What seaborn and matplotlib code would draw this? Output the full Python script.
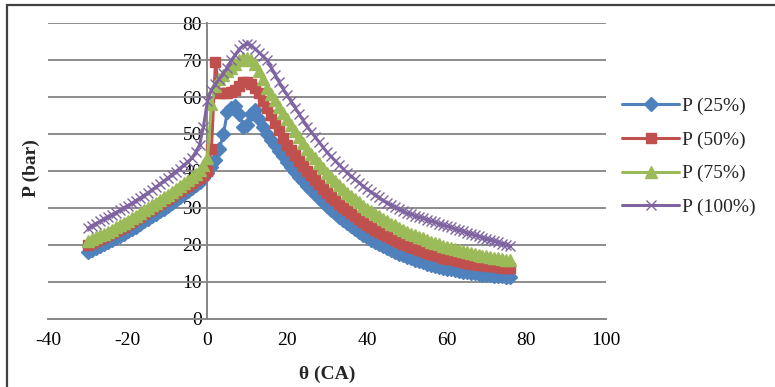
import numpy as np
import matplotlib
matplotlib.use("Agg")
import matplotlib.pyplot as plt
from matplotlib.patches import Rectangle
import seaborn as sns

# crank angle, 1 degree steps
theta = np.arange(-30, 77)

p25 = [18.0, 18.5, 19.0, 19.6, 20.1, 20.6, 21.2, 21.8, 22.4, 23.0,
       23.6, 24.2, 24.9, 25.6, 26.3, 27.0, 27.7, 28.4, 29.1, 29.8,
       30.5, 31.3, 32.1, 32.9, 33.7, 34.5, 35.3, 36.1, 37.0, 38.0,
       39.5, 41.0, 43.0, 46.0, 50.0, 56.0, 57.0, 57.5, 55.5, 52.0,
       52.5, 55.5, 56.5, 54.0, 52.0, 50.0, 48.3, 46.9, 45.3, 43.9,
       42.5, 41.1, 39.7, 38.4, 37.2, 36.0, 34.9, 33.8, 32.7, 31.6,
       30.5, 29.5, 28.5, 27.6, 26.7, 25.8, 25.0, 24.2, 23.5, 22.7,
       22.0, 21.4, 20.8, 20.2, 19.6, 19.0, 18.5, 18.0, 17.6, 17.1,
       16.7, 16.3, 15.9, 15.6, 15.2, 14.9, 14.6, 14.3, 14.0, 13.7,
       13.5, 13.3, 13.1, 12.9, 12.7, 12.5, 12.4, 12.2, 12.1, 11.9,
       11.8, 11.7, 11.6, 11.5, 11.4, 11.3, 11.2]

p50 = [20.0, 20.5, 21.0, 21.5, 22.0, 22.5, 23.1, 23.7, 24.3, 24.9,
       25.5, 26.2, 26.9, 27.6, 28.3, 29.0, 29.7, 30.4, 31.1, 31.8,
       32.5, 33.2, 33.9, 34.6, 35.3, 36.0, 36.7, 37.4, 38.1, 38.9,
       40.0, 46.0, 69.5, 61.0, 61.0, 61.0, 61.5, 62.0, 63.0, 64.0,
       64.0, 63.5, 62.5, 61.0, 59.0, 57.0, 55.0, 53.0, 51.0, 49.0,
       47.0, 45.6, 44.2, 42.8, 41.4, 40.0, 38.8, 37.6, 36.4, 35.2,
       34.0, 33.0, 32.0, 31.1, 30.2, 29.3, 28.5, 27.7, 26.9, 26.1,
       25.3, 24.7, 24.1, 23.5, 22.9, 22.3, 21.8, 21.3, 20.8, 20.3,
       19.8, 19.4, 19.0, 18.6, 18.2, 17.8, 17.5, 17.2, 16.8, 16.5,
       16.2, 16.0, 15.8, 15.5, 15.3, 15.1, 14.9, 14.8, 14.6, 14.5,
       14.3, 14.2, 14.1, 13.9, 13.8, 13.7, 13.6]

p75 = [21.0, 21.5, 22.0, 22.5, 23.0, 23.5, 24.1, 24.7, 25.3, 25.9,
       26.5, 27.2, 27.9, 28.6, 29.3, 30.0, 30.7, 31.4, 32.1, 32.8,
       33.5, 34.3, 35.1, 35.9, 36.7, 37.5, 38.3, 39.2, 40.3, 41.5,
       43.5, 58.0, 63.0, 65.0, 66.0, 67.0, 68.0, 69.0, 70.0, 70.5,
       70.5, 70.0, 69.0, 67.0, 65.0, 62.5, 60.8, 59.1, 57.4, 55.7,
       54.0, 52.4, 50.8, 49.2, 47.6, 46.0, 44.7, 43.4, 42.1, 40.8,
       39.5, 38.4, 37.3, 36.2, 35.1, 34.0, 33.2, 32.3, 31.5, 30.6,
       29.8, 29.1, 28.4, 27.7, 27.0, 26.3, 25.7, 25.2, 24.6, 24.1,
       23.5, 23.0, 22.6, 22.1, 21.7, 21.2, 20.8, 20.4, 20.1, 19.7,
       19.3, 19.0, 18.7, 18.5, 18.2, 17.9, 17.7, 17.5, 17.2, 17.0,
       16.8, 16.6, 16.4, 16.3, 16.1, 15.9, 15.8]

p100 = [24.5, 25.1, 25.7, 26.3, 26.9, 27.5, 28.1, 28.7, 29.3, 29.9,
        30.5, 31.2, 31.9, 32.6, 33.3, 34.0, 34.8, 35.6, 36.4, 37.2,
        38.0, 38.9, 39.8, 40.6, 41.5, 42.4, 43.4, 45.0, 47.0, 52.0,
        59.0, 62.0, 63.5, 65.0, 66.5, 68.0, 70.0, 71.5, 73.0, 74.0,
        74.5, 74.0, 73.0, 72.0, 71.0, 70.0, 68.0, 66.0, 64.0, 62.2,
        60.5, 58.8, 57.1, 55.4, 53.7, 52.0, 50.6, 49.2, 47.8, 46.4,
        45.0, 43.9, 42.8, 41.7, 40.6, 39.5, 38.6, 37.7, 36.8, 35.9,
        35.0, 34.3, 33.5, 32.8, 32.0, 31.3, 30.8, 30.2, 29.7, 29.1,
        28.6, 28.2, 27.9, 27.5, 27.2, 26.8, 26.4, 26.1, 25.7, 25.4,
        25.0, 24.7, 24.3, 24.0, 23.6, 23.3, 23.0, 22.6, 22.3, 21.9,
        21.6, 21.3, 21.0, 20.6, 20.3, 20.0, 19.6]

labels = ["P (25%)", "P (50%)", "P (75%)", "P (100%)"]
colors = ["#4F81BD", "#C0504D", "#9BBB59", "#8064A2"]
markers = ["D", "s", "^", "x"]
msizes = [7.5, 7, 8, 7.5]

sns.set_style("white")
plt.rcParams["font.family"] = ["Liberation Serif", "DejaVu Serif"]
plt.rcParams["axes.unicode_minus"] = False

fig = plt.figure(figsize=(7.75, 3.87), dpi=100)
ax = fig.add_axes([0.062, 0.177, 0.720, 0.763])

for vals, lab, col, mk, ms in zip([p25, p50, p75, p100], labels, colors, markers, msizes):
    sns.lineplot(x=theta, y=vals, ax=ax, color=col, marker=mk, markersize=ms,
                 markeredgecolor=col, markeredgewidth=1.0, linewidth=2.2,
                 label=lab, zorder=3)

ax.set_xlim(-40, 100)
ax.set_ylim(0, 80)
ax.set_xticks(range(-40, 101, 20))
ax.set_yticks(range(0, 81, 10))
ax.set_xlabel("")
ax.set_ylabel("")

for y in range(10, 81, 10):
    ax.axhline(y, color="#8c8c8c", lw=1.4, zorder=1)

ax.spines["top"].set_visible(False)
ax.spines["right"].set_visible(False)
ax.spines["left"].set_position(("data", 0))
ax.spines["left"].set_color("#868686")
ax.spines["bottom"].set_color("#868686")
ax.spines["left"].set_linewidth(1.4)
ax.spines["bottom"].set_linewidth(1.4)
ax.spines["left"].set_zorder(2)

ax.tick_params(axis="x", direction="out", length=4, width=1.2, color="#868686",
               pad=6, labelsize=14, labelcolor="black")
ax.tick_params(axis="y", length=0, pad=4, labelsize=14, labelcolor="black")
ax.patch.set_alpha(0)

fig.text(0.040, 0.565, "P (bar)", rotation=90, ha="center", va="center",
         fontsize=14, fontweight="bold")
fig.text(0.422, 0.033, "θ (CA)", ha="center", va="center",
         fontsize=14, fontweight="bold")

h, l = ax.get_legend_handles_labels()
ax.legend(h, l, loc="center left", bbox_to_anchor=(0.803, 0.595),
          bbox_transform=fig.transFigure, frameon=False, fontsize=14,
          handlelength=2.9, handletextpad=0.15, labelspacing=0.82,
          borderpad=0, borderaxespad=0)

# outer chart frame (only top and left edges show in the crop)
fig.patches.append(Rectangle((0.009, -0.2), 1.2, 0.187 + 1.0, transform=fig.transFigure,
                             fill=False, ec="#404040", lw=1.6, clip_on=False))

fig.savefig("out.png", dpi=100)
